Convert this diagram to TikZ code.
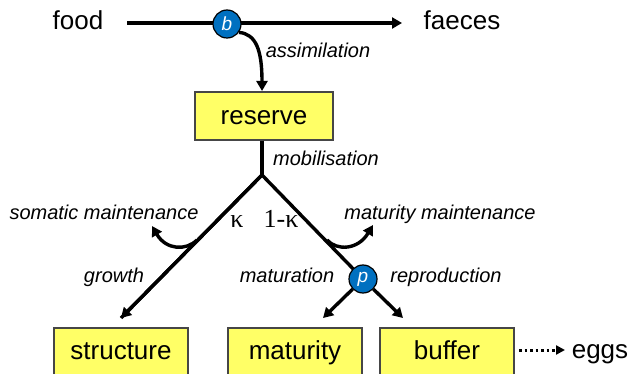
\documentclass[tikz,border=0pt]{standalone}
\usepackage{fontspec}
\setmainfont{Liberation Sans}
\newfontfamily\kfont{Liberation Serif}
\usetikzlibrary{arrows.meta}
\definecolor{boxfill}{RGB}{255,255,102}
\definecolor{boxline}{RGB}{70,70,70}
\definecolor{circblue}{RGB}{0,112,192}
\tikzset{
  pool/.style={draw=boxline,line width=1.3pt,fill=boxfill,minimum width=134pt,minimum height=48pt,inner sep=0pt},
  big/.style={font=\fontsize{26}{30}\selectfont,inner sep=0pt,anchor=base},
  lab/.style={font=\fontsize{20}{24}\selectfont\itshape,inner sep=0pt,anchor=base},
  kap/.style={font=\fontsize{26}{30}\selectfont\kfont,inner sep=0pt,anchor=base},
  flow/.style={line width=3.4pt,draw=black},
  arr/.style={flow,-{Triangle[length=10pt,width=11pt]}},
  switch/.style={circle,draw=black,line width=1.2pt,fill=circblue,text=white,minimum size=28pt,inner sep=0pt,font=\fontsize{19}{20}\selectfont\itshape}
}
\begin{document}
\begin{tikzpicture}[x=1pt,y=-1pt]
\useasboundingbox (0,0) rectangle (634,374);
\clip (0,0) rectangle (634,374);
% top row
\node[big] (food) at (78,29.5) {food};
\node[big] (faeces) at (462,29.5) {faeces};
\coordinate (fstart) at (127,23);
\coordinate (fend) at (402,23);
\draw[arr] (fstart) -- (fend);
\node[switch] (b) at (227,24) {b};
\node[pool,minimum width=138pt] (reserve) at (264,116) {};
\node[big] at (264,125) {reserve};
\draw[arr] (b.-35) .. controls (256,34) and (262,50) .. (262,91);
\node[lab] (assim) at (318,58) {assimilation};
% mobilisation
\coordinate (branch) at (262,175);
\draw[flow] (reserve.south -| branch) -- (branch);
\node[lab] (mob) at (326,166) {mobilisation};
% boxes bottom
\node[pool] (structure) at (121,352) {};
\node[big] at (121,359) {structure};
\node[pool] (maturity) at (295,352) {};
\node[big] at (295,359) {maturity};
\node[pool] (buffer) at (447,352) {};
\node[big] at (447,359) {buffer};
% branches
\coordinate (gtip) at (121,318);
\draw[flow,line join=miter] (gtip) -- (branch) -- (363,279);
\draw[arr] (branch) -- (gtip);
\node[switch] (p) at (363,279) {p};
\coordinate (mtip) at (323,318);
\coordinate (btip) at (403,318);
\draw[arr] (p) -- (mtip);
\draw[arr] (p) -- (btip);
% maintenance
\coordinate (sm0) at (197,240);
\coordinate (sm1) at (152,226);
\draw[arr] (sm0) .. controls (186,251) and (166,250) .. (sm1);
\coordinate (mm0) at (327,240);
\coordinate (mm1) at (373,225);
\draw[arr] (mm0) .. controls (337,251) and (358,250) .. (mm1);
% labels
\node[kap] (k1) at (237,227) {κ};
\node[kap] (k2) at (281,227) {1-κ};
\node[lab] (som) at (104,219) {somatic maintenance};
\node[lab] (matm) at (440,219) {maturity maintenance};
\node[lab] (grow) at (114,282) {growth};
\node[lab] (matu) at (287,282) {maturation};
\node[lab] (repr) at (446,282) {reproduction};
% eggs
\node[big] (eggs) at (600,358) {eggs};
\coordinate (d0) at (519,350);
\coordinate (d1) at (565,350);
\draw[line width=3pt,dash pattern=on 2.5pt off 3pt,-{Triangle[length=9pt,width=9pt]}] (d0) -- (d1);
\end{tikzpicture}
\end{document}
